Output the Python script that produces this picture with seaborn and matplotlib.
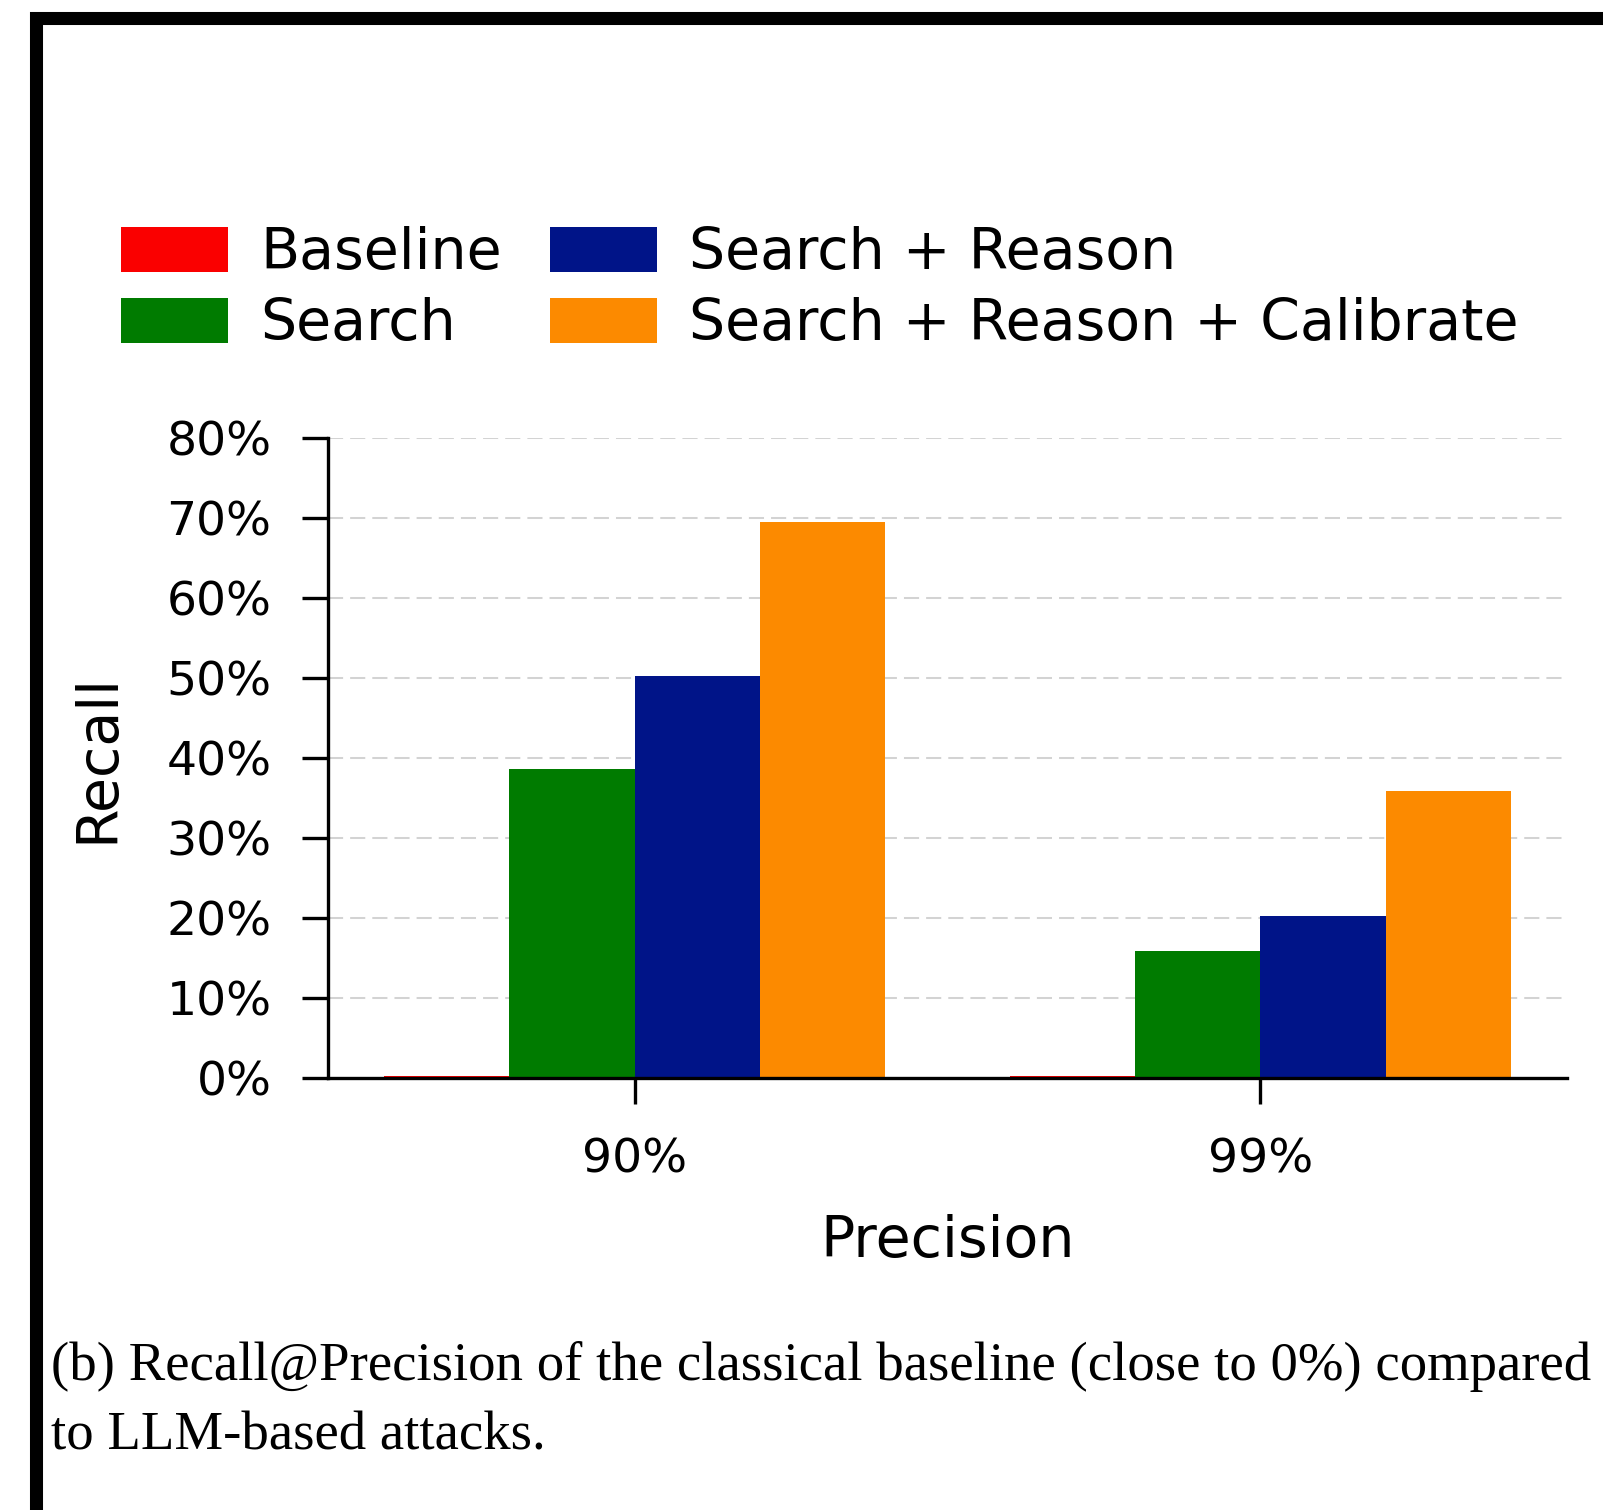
import matplotlib
matplotlib.use("Agg")
import matplotlib.pyplot as plt
from matplotlib.patches import Rectangle
import pandas as pd
import seaborn as sns

# values (recall in %, baseline is ~0)
precisions = ["90%", "99%"]
methods = ["Baseline", "Search", "Search + Reason", "Search + Reason + Calibrate"]
baseline = [0.3, 0.3]
search = [38.6, 15.9]
search_reason = [50.2, 20.3]
search_reason_cal = [69.5, 35.9]
colors = ["#fa0000", "#007b00", "#001488", "#fc8a00"]
ytick_vals = [0, 10, 20, 30, 40, 50, 60, 70, 80]
ytick_labels = ["0%", "10%", "20%", "30%", "40%", "50%", "60%", "70%", "80%"]
caption_1 = "(b) Recall@Precision of the classical baseline (close to 0%) compared"
caption_2 = "to LLM-based attacks."

# long table for seaborn
rows = []
for m, vals in zip(methods, [baseline, search, search_reason, search_reason_cal]):
    for p, v in zip(precisions, vals):
        rows.append({"Precision": p, "Method": m, "Recall": v})
df = pd.DataFrame(rows)

sns.set_style("white")
plt.rcParams["font.family"] = ["DejaVu Sans"]
plt.rcParams["text.color"] = "black"
plt.rcParams["axes.labelcolor"] = "black"
plt.rcParams["xtick.color"] = "black"
plt.rcParams["ytick.color"] = "black"

fig = plt.figure(figsize=(16.03, 15.10), dpi=100)
ax = fig.add_axes([0.2046, 0.2858, 0.773, 0.4243])

sns.barplot(data=df, x="Precision", y="Recall", hue="Method", hue_order=methods,
            palette=colors, width=0.8, linewidth=0, saturation=1, ax=ax)

handles, labels = ax.get_legend_handles_labels()
ax.get_legend().remove()

ax.set_xlim(-0.49, 1.49)
ax.set_ylim(0, 80)
ax.set_yticks(ytick_vals)
ax.set_yticklabels(ytick_labels)
ax.yaxis.grid(True, color="#d3d3d3", linestyle=(0, (7.5, 3.5)), linewidth=1.45)
ax.set_axisbelow(True)

for side in ["top", "right"]:
    ax.spines[side].set_visible(False)
for side in ["left", "bottom"]:
    ax.spines[side].set_linewidth(2.4)
    ax.spines[side].set_color("black")

ax.tick_params(axis="both", direction="out", length=18.7, width=2.4,
               color="black", labelcolor="black", bottom=True, left=True)
ax.tick_params(axis="y", labelsize=34, pad=22)
ax.tick_params(axis="x", labelsize=34, pad=24)

ax.set_xlabel("Precision", fontsize=41, color="black")
ax.set_ylabel("Recall", fontsize=41, color="black")
ax.xaxis.set_label_coords(0.5, -0.255)
ax.xaxis.label.set_va("center")
ax.yaxis.set_label_coords(-0.1856, 0.5)
ax.yaxis.label.set_va("center")

leg = fig.legend(handles, labels, ncol=2, loc="upper left",
                 bbox_to_anchor=(121 / 1603, 1 - 226 / 1510), frameon=False,
                 fontsize=41, handlelength=1.88, handleheight=0.84,
                 handletextpad=0.56, columnspacing=0.85, labelspacing=0.28,
                 borderpad=0, borderaxespad=0)
for t in leg.get_texts():
    t.set_color("black")

# caption under the plot
fig.text(51 / 1603, 1 - 1367 / 1510, caption_1, fontsize=39.4, color="black",
         family="Liberation Serif", va="center", ha="left")
fig.text(51 / 1603, 1 - 1436 / 1510, caption_2, fontsize=39.4, color="black",
         family="Liberation Serif", va="center", ha="left")

# black frame (cut off on the right)
fig.add_artist(Rectangle((36 / 1603, -0.002), 1.2, 0.9904,
                         transform=fig.transFigure, fill=False,
                         edgecolor="black", linewidth=9.4, clip_on=False))

fig.savefig("out.png", dpi=100)
